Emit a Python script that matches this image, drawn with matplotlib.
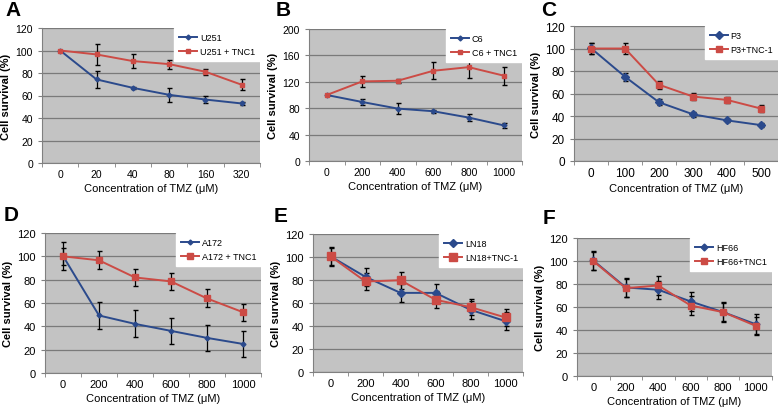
import matplotlib
matplotlib.use("Agg")
import matplotlib.pyplot as plt
from matplotlib.lines import Line2D
import numpy as np

plt.rcParams['font.family'] = ['Liberation Sans', 'DejaVu Sans']

BLUE = '#2b4a8c'
RED = '#cc4b45'

# Panel A - U251
a_x = ['0', '20', '40', '80', '160', '320']
a_ctrl = [100, 74.3, 66.8, 60.6, 56.4, 52.9]
a_ctrl_err = [0, 7.3, 0.8, 6.4, 3.0, 1.5]
a_tnc = [100, 96.5, 90.6, 87.9, 81.1, 69.5]
a_tnc_err = [0, 9.4, 6.0, 3.9, 2.5, 4.8]

# Panel B - C6
b_x = ['0', '200', '400', '600', '800', '1000']
b_ctrl = [100, 89.4, 79.4, 75.4, 65.8, 53.8]
b_ctrl_err = [0, 5.0, 8.0, 2.0, 5.5, 4.0]
b_tnc = [100, 120.6, 121.6, 136.7, 142.2, 129.1]
b_tnc_err = [0, 8.0, 3.0, 13.0, 16.5, 13.5]

# Panel C - P3
c_x = ['0', '100', '200', '300', '400', '500']
c_ctrl = [100.3, 74.9, 52.2, 41.5, 36.1, 31.9]
c_ctrl_err = [5.0, 3.6, 2.5, 2.0, 1.5, 1.5]
c_tnc = [100, 100, 67.8, 57.3, 54.3, 46.6]
c_tnc_err = [4.5, 4.5, 3.6, 3.0, 3.0, 3.0]

# Panel D - A172
d_x = ['0', '200', '400', '600', '800', '1000']
d_ctrl = [100.3, 49.3, 42.1, 36.1, 30.1, 24.9]
d_ctrl_err = [11.7, 11.6, 11.5, 11.0, 11.3, 11.5]
d_tnc = [100, 96.6, 81.9, 78.5, 63.9, 52.1]
d_tnc_err = [7.0, 7.7, 7.5, 7.5, 7.7, 7.4]

# Panel E - LN18
e_x = ['0', '200', '400', '600', '800', '1000']
e_ctrl = [100.6, 82.7, 68.8, 68.8, 54.1, 44.2]
e_ctrl_err = [8.0, 8.0, 8.0, 8.0, 8.0, 8.0]
e_tnc = [100.6, 78.7, 79.8, 62.8, 56.4, 47.4]
e_tnc_err = [7.5, 7.0, 7.5, 7.5, 7.0, 7.5]

# Panel F - HF66
f_x = ['0', '200', '400', '600', '800', '1000']
f_ctrl = [100.5, 77.0, 75.0, 64.8, 55.5, 45.0]
f_ctrl_err = [8.0, 8.0, 8.0, 8.0, 8.5, 8.5]
f_tnc = [100, 76.4, 78.7, 61.3, 55.5, 43.6]
f_tnc_err = [8.0, 8.0, 8.0, 8.0, 8.0, 8.0]


def draw_panel(fig, rect, letter, letter_xy, xlabels, ctrl, ctrl_err, tnc, tnc_err,
               names, ymax, ystep, ms=(2.5, 3), tick_fs=7.5, lbl_fs=8):
    ax = fig.add_axes(rect)
    ax.set_facecolor('#c3c3c3')
    x = np.arange(len(xlabels))

    ax.errorbar(x, ctrl, yerr=ctrl_err, color=BLUE, marker='D', ms=ms[0], lw=1.4,
                ecolor='black', elinewidth=0.9, capsize=1.8, zorder=3)
    ax.errorbar(x, tnc, yerr=tnc_err, color=RED, marker='s', ms=ms[1], lw=1.4,
                ecolor='black', elinewidth=0.9, capsize=1.8, zorder=3)

    ax.set_xlim(-0.5, len(xlabels) - 0.5)
    ax.set_ylim(0, ymax)
    ax.set_yticks(np.arange(0, ymax + 1, ystep))
    ax.yaxis.grid(True, color='#7a7a7a', lw=0.9)
    ax.set_axisbelow(True)

    # category labels centred, tick marks between categories
    ax.set_xticks(x)
    ax.set_xticklabels(xlabels, fontsize=tick_fs)
    ax.tick_params(axis='x', length=0, pad=4)
    ax.set_xticks(np.arange(-0.5, len(xlabels), 1), minor=True)
    ax.tick_params(axis='x', which='minor', length=3, color='#808080', direction='out')
    ax.tick_params(axis='y', labelsize=tick_fs, length=3, color='#808080')

    for s in ['top', 'right']:
        ax.spines[s].set_visible(False)
    for s in ['left', 'bottom']:
        ax.spines[s].set_color('#808080')

    ax.set_ylabel('Cell survival (%)', fontsize=lbl_fs, fontweight='bold', labelpad=3)
    ax.set_xlabel('Concentration of TMZ (\u03bcM)', fontsize=lbl_fs, labelpad=3)

    handles = [Line2D([], [], color=BLUE, marker='D', ms=ms[0], lw=1.4),
               Line2D([], [], color=RED, marker='s', ms=ms[1], lw=1.4)]
    leg = ax.legend(handles, names, loc='upper right', fontsize=6.5, frameon=True,
                    fancybox=False, borderaxespad=0, handlelength=2.0,
                    handletextpad=0.3, labelspacing=0.55, borderpad=0.55)
    leg.get_frame().set_facecolor('white')
    leg.get_frame().set_edgecolor('white')
    leg.get_frame().set_alpha(1)

    fig.text(letter_xy[0], letter_xy[1], letter, fontsize=15, fontweight='bold',
             ha='left', va='center')
    return ax


W, H = 778, 410
fig = plt.figure(figsize=(W / 100, H / 100), dpi=100)


def rect(l, r, t, b):
    return [l / W, 1 - b / H, (r - l) / W, (b - t) / H]


draw_panel(fig, rect(42, 260, 29, 164), 'A', (5 / W, 1 - 11 / H), a_x,
           a_ctrl, a_ctrl_err, a_tnc, a_tnc_err, ['U251', 'U251 + TNC1'], 120, 20)
draw_panel(fig, rect(309, 522, 30, 162), 'B', (276 / W, 1 - 10 / H), b_x,
           b_ctrl, b_ctrl_err, b_tnc, b_tnc_err, ['C6', 'C6 + TNC1'], 200, 40)
draw_panel(fig, rect(574, 778, 27, 162), 'C', (541 / W, 1 - 11 / H), c_x,
           c_ctrl, c_ctrl_err, c_tnc, c_tnc_err, ['P3', 'P3+TNC-1'], 120, 20,
           ms=(4, 4.5), tick_fs=8.5)
draw_panel(fig, rect(45, 261, 234, 374), 'D', (4 / W, 1 - 216 / H), d_x,
           d_ctrl, d_ctrl_err, d_tnc, d_tnc_err, ['A172', 'A172 + TNC1'], 120, 20,
           ms=(2.5, 4.5), tick_fs=8)
draw_panel(fig, rect(313, 523, 235, 373), 'E', (274 / W, 1 - 217 / H), e_x,
           e_ctrl, e_ctrl_err, e_tnc, e_tnc_err, ['LN18', 'LN18+TNC-1'], 120, 20,
           ms=(4.5, 6), tick_fs=8)
draw_panel(fig, rect(577, 772, 239, 377), 'F', (543 / W, 1 - 219 / H), f_x,
           f_ctrl, f_ctrl_err, f_tnc, f_tnc_err, ['HF66', 'HF66+TNC1'], 120, 20,
           ms=(3.5, 5), tick_fs=8)

fig.savefig('out.png', dpi=100)
